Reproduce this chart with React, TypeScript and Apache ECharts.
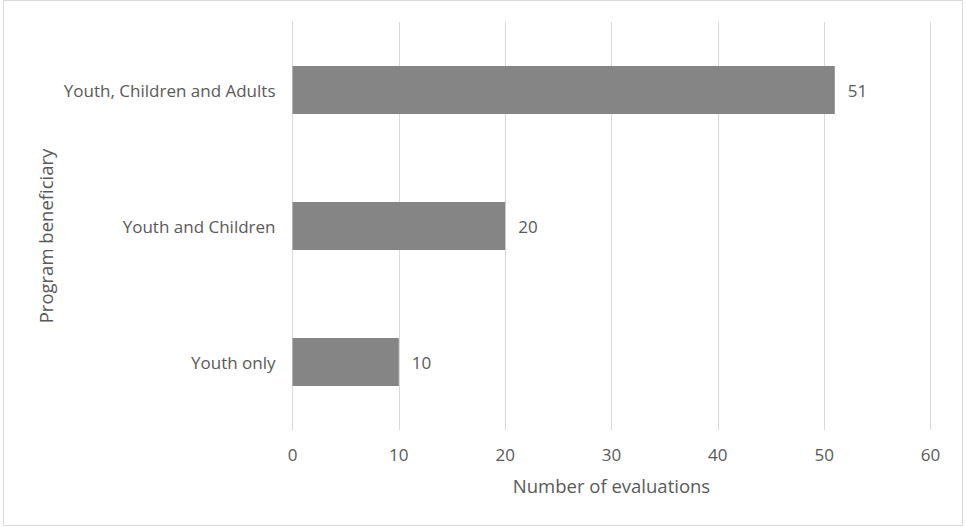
import React, { useEffect, useRef } from "react";
import * as echarts from "echarts";

// Beneficiary groups, top to bottom
const categories: string[] = [
  "Youth, Children and Adults",
  "Youth and Children",
  "Youth only",
];
const evaluations: number[] = [51, 20, 10];

const xAxisTitle = "Number of evaluations";
const yAxisTitle = "Program beneficiary";

const FONT = "'Open Sans', sans-serif";
const TEXT = "#595959";
const GRID = "#d9d9d9";

export default function App() {
  const ref = useRef<HTMLDivElement>(null);

  useEffect(() => {
    if (!ref.current) return;
    const chart = echarts.init(ref.current, undefined, { renderer: "svg" });
    chart.setOption({
      animation: false,
      backgroundColor: "#ffffff",
      textStyle: { fontFamily: FONT },
      grid: {
        left: 292.5,
        right: 35.5,
        top: 22,
        bottom: 97,
        containLabel: false,
        outerBoundsMode: "none",
      },
      xAxis: {
        type: "value",
        min: 0,
        max: 60,
        interval: 10,
        axisLine: { show: false },
        axisTick: { show: false },
        splitLine: { show: true, lineStyle: { color: GRID, width: 1 } },
        axisLabel: {
          color: TEXT,
          fontSize: 17,
          fontFamily: FONT,
          margin: 16,
        },
        name: xAxisTitle,
        nameLocation: "middle",
        nameGap: 46,
        nameTextStyle: { color: TEXT, fontSize: 18.5, fontFamily: FONT },
      },
      yAxis: {
        type: "category",
        data: categories,
        inverse: true,
        axisLine: { show: true, lineStyle: { color: GRID, width: 1 } },
        axisTick: { show: false },
        splitLine: { show: false },
        axisLabel: {
          color: TEXT,
          fontSize: 17,
          fontFamily: FONT,
          margin: 17,
        },
      },
      series: [
        {
          type: "bar",
          data: evaluations,
          barWidth: 48,
          itemStyle: { color: "#858585" },
          label: {
            show: true,
            position: "right",
            distance: 13,
            color: TEXT,
            fontSize: 17,
            fontFamily: FONT,
          },
        },
      ],
      graphic: [
        {
          type: "rect",
          shape: { x: 3.5, y: 0.5, width: 959, height: 525 },
          style: { fill: "none", stroke: GRID, lineWidth: 1 },
          silent: true,
        },
        {
          type: "text",
          x: 45,
          y: 236,
          rotation: Math.PI / 2,
          style: {
            text: yAxisTitle,
            fill: TEXT,
            fontSize: 18.5,
            fontFamily: FONT,
            textAlign: "center",
            textVerticalAlign: "middle",
          },
        },
      ],
    });
    return () => chart.dispose();
  }, []);

  return (
    <div
      ref={ref}
      style={{ position: "absolute", left: 0, top: 0, width: 966, height: 527 }}
    />
  );
}
